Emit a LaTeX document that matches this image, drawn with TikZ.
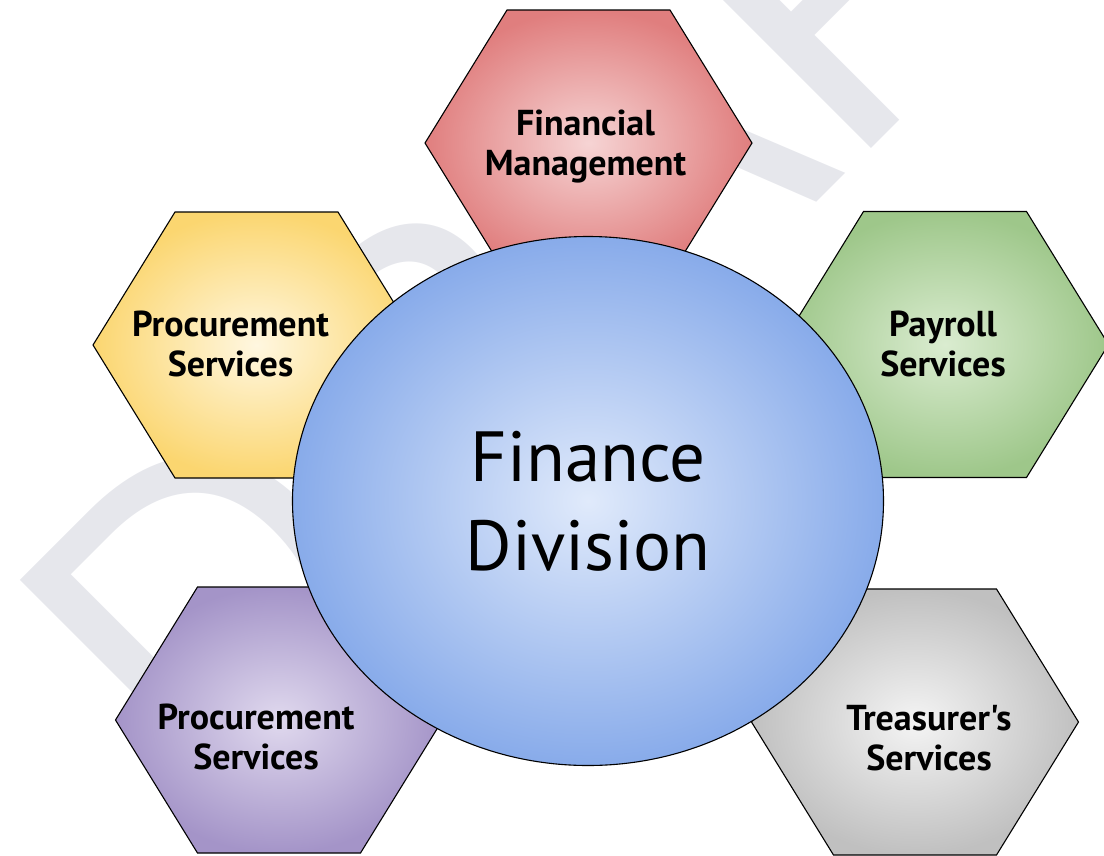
\documentclass[tikz,border=0pt]{standalone}
\usepackage{fontspec}
\usepackage{tikz}
\usetikzlibrary{shapes.geometric}

\newfontfamily\labelfont{PT Sans}
\newfontfamily\markfont{Liberation Sans}

\definecolor{markgray}{RGB}{230,231,236}
\definecolor{finLt}{RGB}{246,212,212}
\definecolor{finDk}{RGB}{224,126,126}
\definecolor{procALt}{RGB}{255,247,224}
\definecolor{procADk}{RGB}{251,214,112}
\definecolor{payLt}{RGB}{218,236,208}
\definecolor{payDk}{RGB}{158,199,138}
\definecolor{procBLt}{RGB}{224,217,238}
\definecolor{procBDk}{RGB}{164,148,200}
\definecolor{treasLt}{RGB}{244,244,244}
\definecolor{treasDk}{RGB}{192,192,192}
\definecolor{divLt}{RGB}{224,234,251}
\definecolor{divDk}{RGB}{136,171,234}

\begin{document}
\begin{tikzpicture}[x=1pt,y=-1pt,line width=1.1pt,
   cell/.style={draw=black},
   tag/.style={font=\labelfont\bfseries\fontsize{36}{40}\selectfont,align=center,inner sep=0pt}]
   \useasboundingbox (0,0) rectangle (1104,855);
   % watermark
   \begin{scope}
      \clip (0,0) rectangle (1104,855);
      \node[text=markgray,rotate=45,anchor=base west,inner sep=0pt,
            font=\markfont\fontsize{430}{430}\selectfont] (draft) at (204.4,815.3) {DRAFT};
   \end{scope}
   % hexagons
   \foreach \x/\y/\lt/\dk in {588.5/143/finLt/finDk, 256.5/345/procALt/procADk,
         945/344.5/payLt/payDk, 279/720/procBLt/procBDk, 915/722/treasLt/treasDk}
      \draw[cell,shift={(\x,\y)},inner color=\lt,outer color=\dk]
         (-163.5,0) -- (-81.5,-133) -- (81.5,-133) -- (163.5,0)
         -- (81.5,133) -- (-81.5,133) -- cycle;
   \node[ellipse,draw=black,minimum width=591pt,minimum height=529pt,inner sep=0pt,
         inner color=divLt,outer color=divDk,align=center,
         font=\labelfont\fontsize{71}{89}\selectfont] (div) at (588,501) {Finance\\Division};
   \node[tag] (fin) at (585.5,147) {Financial\\Management};
   \node[tag] (procA) at (230.5,344) {Procurement\\Services};
   \node[tag] (pay) at (943,344) {Payroll\\Services};
   \node[tag] (procB) at (256,737) {Procurement\\Services};
   \node[tag] (treas) at (929,738) {Treasurer's\\Services};
\end{tikzpicture}
\end{document}
